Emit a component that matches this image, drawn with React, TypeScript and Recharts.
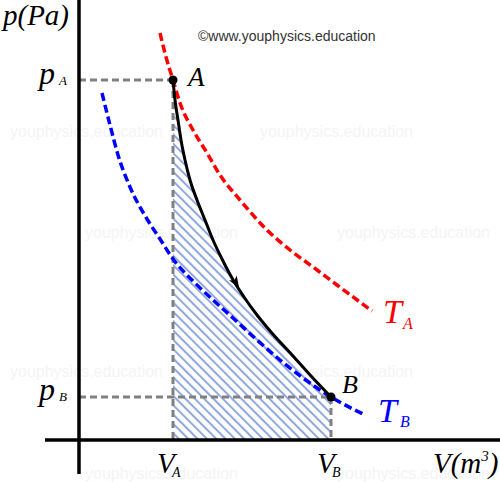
import React from "react";
import {
  ComposedChart,
  Area,
  Line,
  XAxis,
  YAxis,
  ReferenceLine,
  ReferenceDot,
} from "recharts";

// states A and B
const vA = 0.94;
const vB = 2.52;
const pA = 3.6;
const pB = 0.43;

// adiabatic path A -> B
const adiabatV = [0.94, 0.96, 0.99, 1.02, 1.06, 1.11, 1.18, 1.26, 1.34, 1.43, 1.53, 1.65, 1.78, 1.92, 2.14, 2.32, 2.52];
const adiabatP = [3.6, 3.4, 3.2, 3.0, 2.8, 2.6, 2.4, 2.2, 2.0, 1.81, 1.62, 1.43, 1.25, 1.08, 0.84, 0.64, 0.43];

// isotherm through A
const isoAV = [0.81, 0.87, 0.94, 1.01, 1.14, 1.28, 1.41, 1.61, 1.88, 2.11, 2.34, 2.58, 2.93];
const isoAP = [4.07, 3.83, 3.6, 3.37, 3.1, 2.87, 2.65, 2.4, 2.1, 1.9, 1.73, 1.55, 1.29];

// isotherm through B
const isoBV = [0.23, 0.31, 0.39, 0.51, 0.68, 0.81, 0.94, 1.16, 1.34, 1.54, 1.78, 2.01, 2.24, 2.52, 2.86];
const isoBP = [3.47, 3.15, 2.85, 2.53, 2.21, 2.01, 1.81, 1.57, 1.4, 1.22, 1.0, 0.8, 0.62, 0.43, 0.25];

const arrowAt = { v: 1.57, p: 1.57 };

const zip = (vs: number[], ps: number[]) => vs.map((v, i) => ({ v, p: ps[i] }));

const adiabat = zip(adiabatV, adiabatP);
const isoA = zip(isoAV, isoAP);
const isoB = zip(isoBV, isoBP);

const serif = "'Liberation Serif', 'Times New Roman', serif";
const sans = "'Liberation Sans', Arial, sans-serif";
const wmColor = "#f4f4f4";

function Sym({ x, y, main, sub, size = 28, subSize = 14, subDx = 0, subDy = 5, color = "#000" }: any) {
  return (
    <g fill={color} fontFamily={serif} fontStyle="italic">
      <text x={x} y={y} fontSize={size}>{main}</text>
      {sub && (
        <text x={x + subDx} y={y + subDy} fontSize={subSize}>{sub}</text>
      )}
    </g>
  );
}

const Arrow = (props: any) => {
  const { cx, cy } = props;
  if (cx == null || cy == null) return null;
  return (
    <polygon
      points="6,0 -6,-4.5 -3,0 -6,4.5"
      fill="#000"
      transform={`translate(${cx},${cy}) rotate(58)`}
    />
  );
};

export default function App() {
  return (
    <div style={{ position: "absolute", left: 0, top: 0, background: "#fff" }}>
      <ComposedChart
        width={500}
        height={482}
        margin={{ top: 0, right: 0, bottom: 42, left: 79 }}
      >
        <defs>
          <pattern
            id="hatch"
            patternUnits="userSpaceOnUse"
            width={6.6}
            height={6.6}
            patternTransform="rotate(-45)"
          >
            <rect width={6.6} height={6.6} fill="#fff" />
            <line x1={1} y1={0} x2={1} y2={6.6} stroke="#8fa9e0" strokeWidth={2} />
          </pattern>
        </defs>

        {/* faint watermarks */}
        {[
          [10, 137], [260, 137], [85, 238], [337, 238],
          [10, 377], [260, 377], [85, 479], [337, 479],
        ].map(([x, y], i) => (
          <text key={i} x={x} y={y} fontSize={16} fill={wmColor} fontFamily={sans}>
            youphysics.education
          </text>
        ))}

        <XAxis type="number" dataKey="v" domain={[0, 4.21]} hide allowDataOverflow />
        <YAxis type="number" dataKey="p" domain={[0, 4.4]} hide allowDataOverflow />

        <Area
          data={adiabat}
          dataKey="p"
          type="monotone"
          stroke="none"
          fill="url(#hatch)"
          fillOpacity={1}
          isAnimationActive={false}
        />

        <ReferenceLine segment={[{ x: 0, y: pA }, { x: vA, y: pA }]} stroke="#808080" strokeWidth={3} strokeDasharray="7 4" ifOverflow="visible" />
        <ReferenceLine segment={[{ x: vA, y: pA }, { x: vA, y: 0 }]} stroke="#808080" strokeWidth={3} strokeDasharray="7 4" ifOverflow="visible" />
        <ReferenceLine segment={[{ x: 0, y: pB }, { x: vB, y: pB }]} stroke="#808080" strokeWidth={3} strokeDasharray="7 4" ifOverflow="visible" />
        <ReferenceLine segment={[{ x: vB, y: pB }, { x: vB, y: 0 }]} stroke="#808080" strokeWidth={3} strokeDasharray="7 4" ifOverflow="visible" />

        <Line data={isoA} dataKey="p" type="monotone" stroke="#ff0000" strokeWidth={3.5} strokeDasharray="8 4" dot={false} isAnimationActive={false} />
        <Line data={isoB} dataKey="p" type="monotone" stroke="#0000ff" strokeWidth={3.5} strokeDasharray="8 4" dot={false} isAnimationActive={false} />
        <Line data={adiabat} dataKey="p" type="monotone" stroke="#000" strokeWidth={3} dot={false} isAnimationActive={false} />

        {/* axes */}
        <ReferenceLine segment={[{ x: -0.34, y: 0 }, { x: 4.21, y: 0 }]} stroke="#000" strokeWidth={3.5} ifOverflow="visible" />
        <ReferenceLine segment={[{ x: 0, y: 4.4 }, { x: 0, y: -0.34 }]} stroke="#000" strokeWidth={3.5} ifOverflow="visible" />

        <ReferenceDot x={arrowAt.v} y={arrowAt.p} shape={<Arrow />} ifOverflow="visible" />
        <ReferenceDot x={vA} y={pA} r={4.5} fill="#000" stroke="none" ifOverflow="visible" />
        <ReferenceDot x={vB} y={pB} r={4.5} fill="#000" stroke="none" ifOverflow="visible" />

        <text x={198} y={41} fontSize={14} fill="#333" fontFamily={sans}>
          ©www.youphysics.education
        </text>

        <Sym x={3} y={25} main="p(Pa)" size={29} />
        <Sym x={39} y={84} main="p" sub="A" size={32} subSize={13} subDx={20} subDy={1} />
        <Sym x={39} y={400} main="p" sub="B" size={32} subSize={13} subDx={20} subDy={1} />
        <Sym x={188} y={86} main="A" size={27} />
        <Sym x={342} y={393} main="B" size={26} />
        <Sym x={157} y={473} main="V" sub="A" size={29} subSize={14} subDx={15} subDy={4} />
        <Sym x={317} y={473} main="V" sub="B" size={29} subSize={14} subDx={15} subDy={4} />
        <g fill="#000" fontFamily={serif} fontStyle="italic">
          <text x={433} y={473} fontSize={29}>
            V(m<tspan fontSize={15} dy={-12}>3</tspan><tspan dy={12}>)</tspan>
          </text>
        </g>
        <Sym x={383} y={323} main="T" sub="A" size={34} subSize={16} subDx={20} subDy={6} color="#ff0000" />
        <Sym x={378} y={422} main="T" sub="B" size={34} subSize={16} subDx={22} subDy={5} color="#0000ff" />
        <Sym x={209} y={380} main="W" sub="AB" size={34} subSize={16} subDx={29} subDy={5} color="#0000ff" />
      </ComposedChart>
    </div>
  );
}
